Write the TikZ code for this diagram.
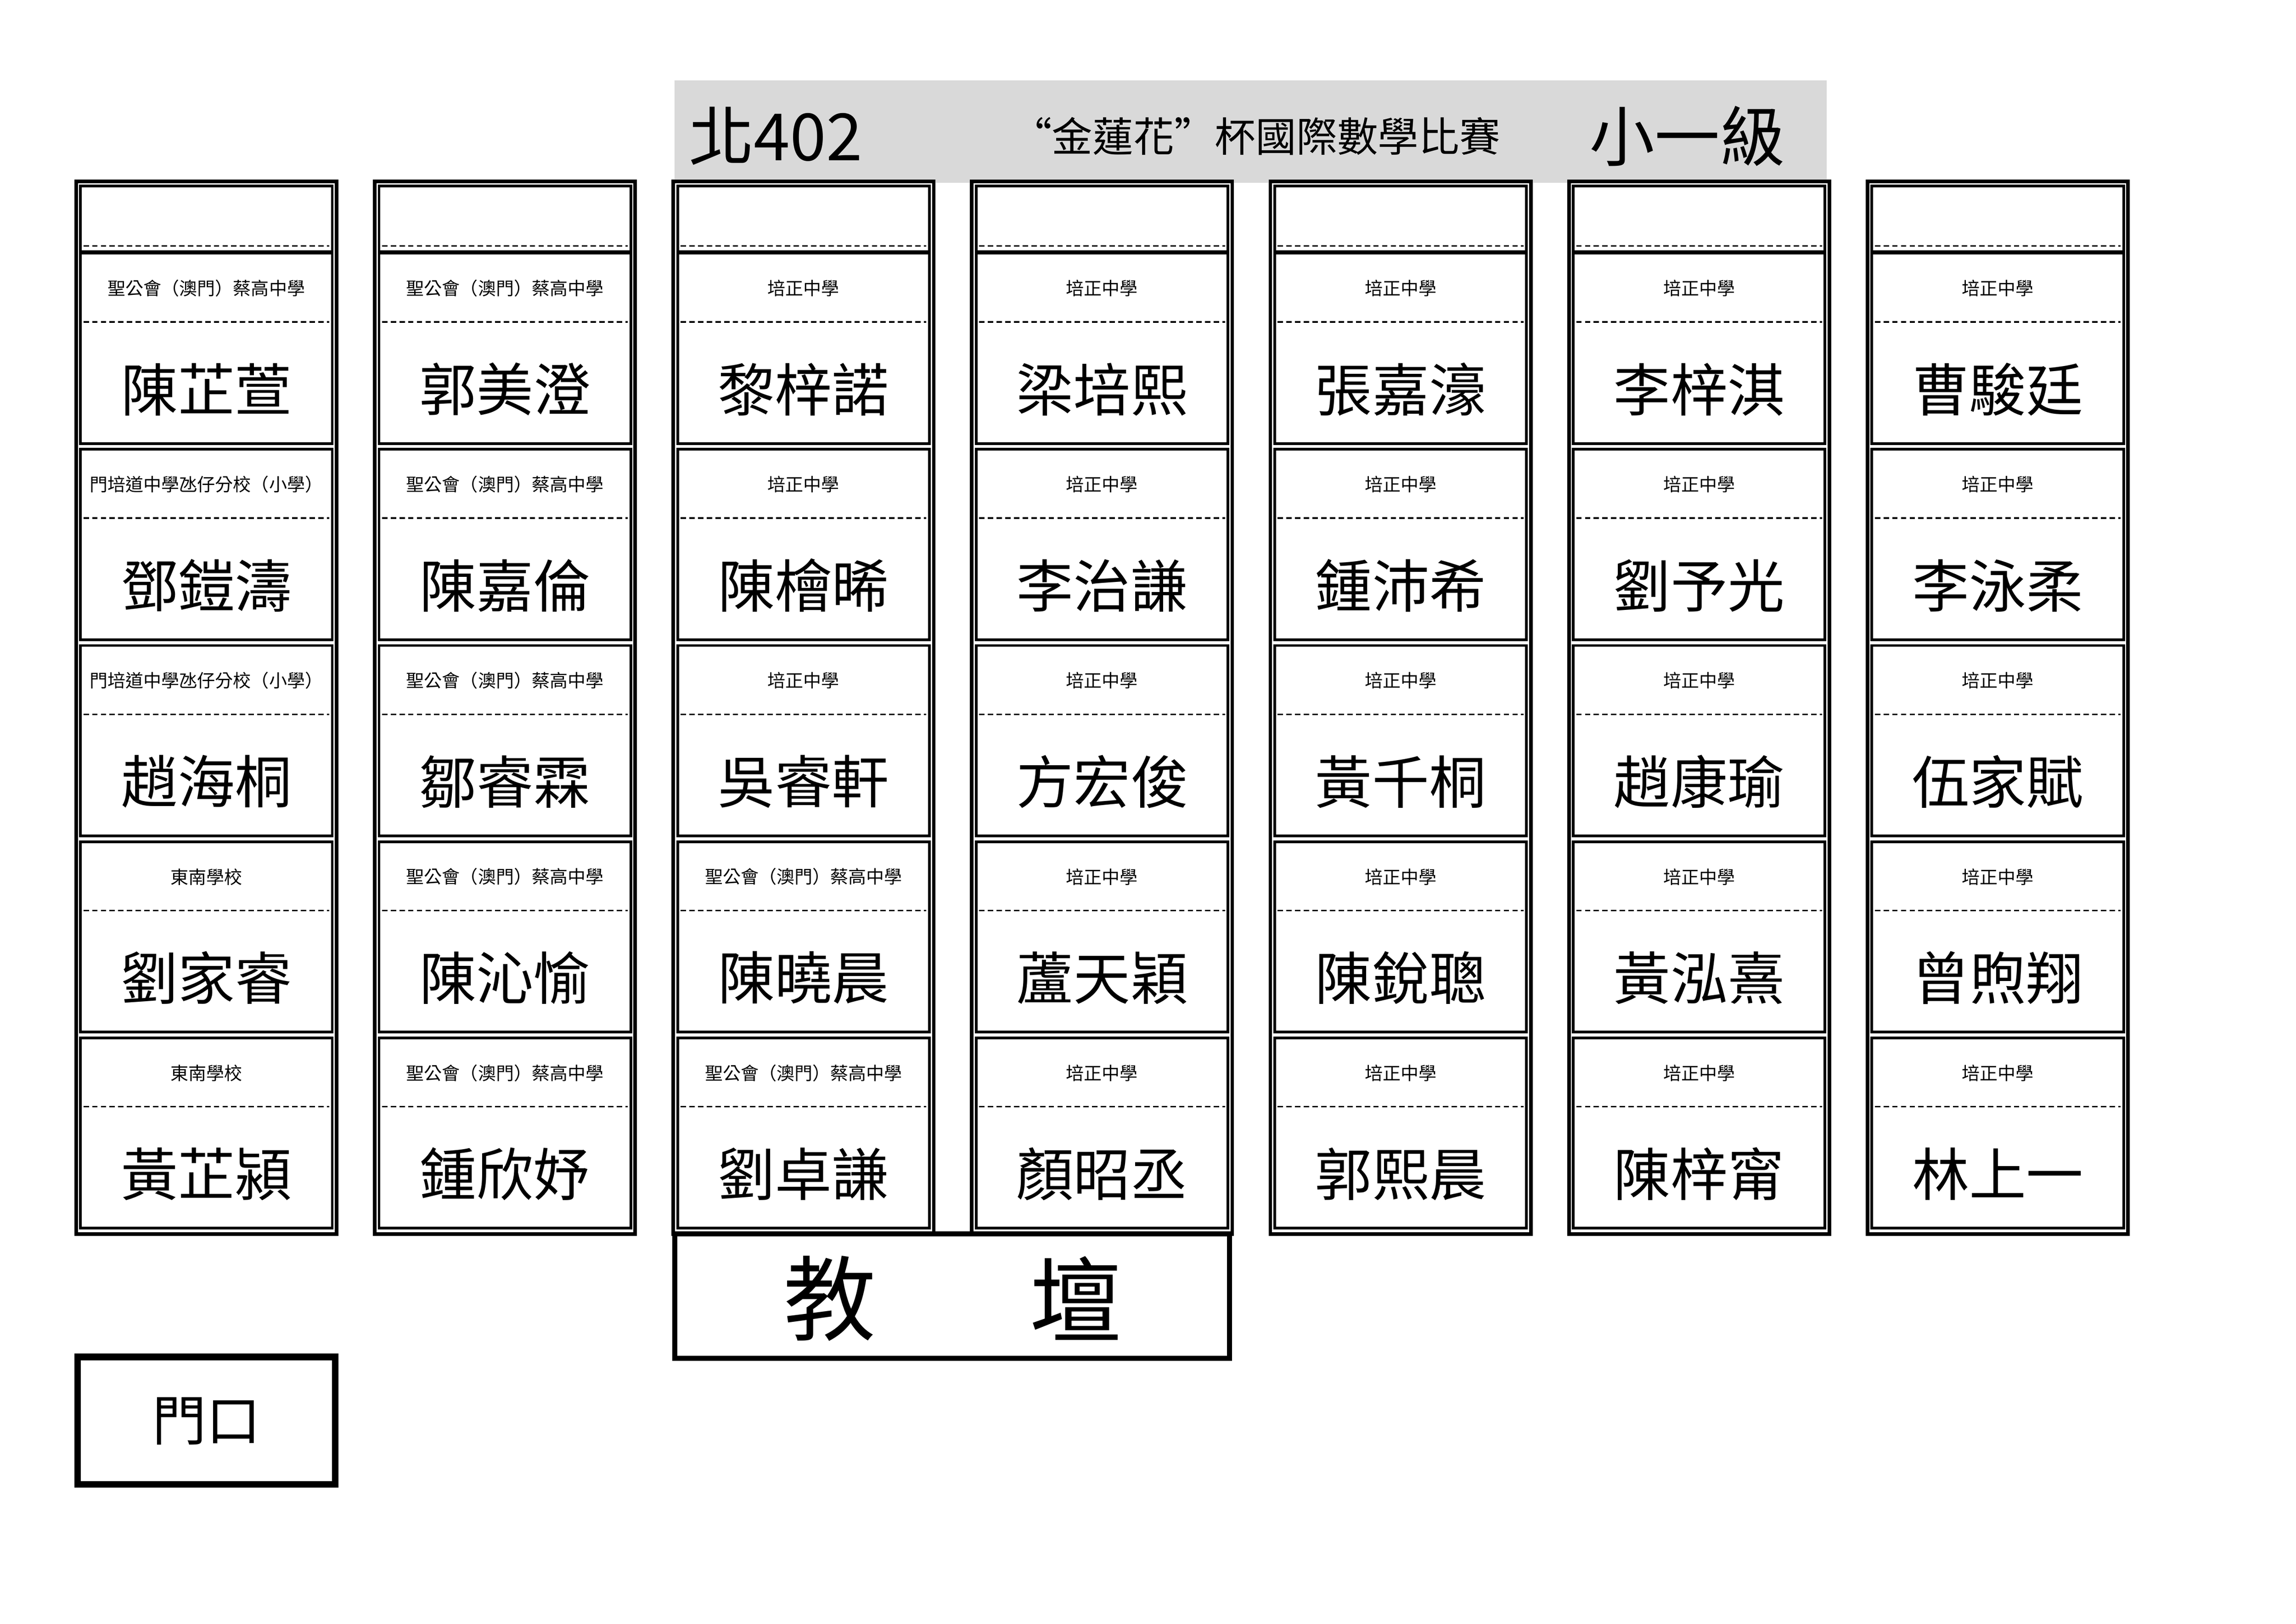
\documentclass[tikz,border=0pt]{standalone}
\usepackage{fontspec}
\setmainfont{Noto Sans CJK TC}
\usepackage{tikz}
\usetikzlibrary{calc}
\tikzset{
  frame/.style={draw,line width=1.3pt},
  cell/.style={draw,line width=1pt},
  cut/.style={dashed,line width=.6pt,dash pattern=on 2pt off 1.2pt},
  school/.style={font=\fontsize{6.6}{6.6}\selectfont,inner sep=0pt},
  pupil/.style={font=\fontsize{21}{21}\selectfont,inner sep=0pt}
}
\begin{document}
\begin{tikzpicture}[x=0.018932cm,y=-0.018932cm]
    \pgfmathsetmacro{\w}{178}
    \pgfmathsetmacro{\p}{204}
    \pgfmathsetmacro{\hh}{134}
    \useasboundingbox (0,0) rectangle (1568.8,1109.2);
    % title bar
    \fill[gray!30] (461,55) rectangle (1248,125);
    \node[font=\fontsize{24}{24}\selectfont] (room) at (530,93) {北402};
    \node[font=\fontsize{15}{15}\selectfont] (contest) at (858,93) {“金蓮花”杯國際數學比賽};
    \node[font=\fontsize{24}{24}\selectfont] (grade) at (1153,93) {小一級};
    % columns
    \foreach \c in {0,...,6}{
        \draw[frame] ({52+\c*\p},124) rectangle ++(\w,719);
        \draw[cell] ({55+\c*\p},127) rectangle ++(\w-6,45);
        \draw[cut] ({57+\c*\p},168) -- ++(\w-10,0);
        \foreach \r in {0,...,4}{
            \draw[cell] ({55+\c*\p},{173+\r*\hh}) rectangle ++(\w-6,\hh-4);
            \draw[cut] ({57+\c*\p},{220+\r*\hh}) -- ++(\w-10,0);}
    }
    % seats
    \foreach \c/\r/\s/\n in {
        1/1/聖公會（澳門）蔡高中學/陳芷萱, 1/2/門培道中學氹仔分校（小學）/鄧鎧濤,
        1/3/門培道中學氹仔分校（小學）/趙海桐, 1/4/東南學校/劉家睿, 1/5/東南學校/黃芷潁,
        2/1/聖公會（澳門）蔡高中學/郭美澄, 2/2/聖公會（澳門）蔡高中學/陳嘉倫,
        2/3/聖公會（澳門）蔡高中學/鄒睿霖, 2/4/聖公會（澳門）蔡高中學/陳沁愉,
        2/5/聖公會（澳門）蔡高中學/鍾欣妤,
        3/1/培正中學/黎梓諾, 3/2/培正中學/陳檜晞, 3/3/培正中學/吳睿軒,
        3/4/聖公會（澳門）蔡高中學/陳曉晨, 3/5/聖公會（澳門）蔡高中學/劉卓謙,
        4/1/培正中學/梁培熙, 4/2/培正中學/李治謙, 4/3/培正中學/方宏俊,
        4/4/培正中學/蘆天穎, 4/5/培正中學/顏昭丞,
        5/1/培正中學/張嘉濠, 5/2/培正中學/鍾沛希, 5/3/培正中學/黃千桐,
        5/4/培正中學/陳銳聰, 5/5/培正中學/郭熙晨,
        6/1/培正中學/李梓淇, 6/2/培正中學/劉予光, 6/3/培正中學/趙康瑜,
        6/4/培正中學/黃泓熹, 6/5/培正中學/陳梓甯,
        7/1/培正中學/曹駿廷, 7/2/培正中學/李泳柔, 7/3/培正中學/伍家賦,
        7/4/培正中學/曾煦翔, 7/5/培正中學/林上一}
    {
        \node[school] (s\c\r) at ({52+\w/2+(\c-1)*\p},{197+(\r-1)*\hh}) {\s};
        \node[pupil] (n\c\r) at ({52+\w/2+(\c-1)*\p},{266+(\r-1)*\hh}) {\n};
    }
    % podium and door
    \draw[frame,line width=1.8pt] (461,843) rectangle (840,928);
    \node[font=\fontsize{34}{34}\selectfont] (podium1) at (567,887) {教};
    \node[font=\fontsize{34}{34}\selectfont] (podium2) at (735,887) {壇};
    \draw[line width=2.4pt] (53,927) rectangle (229,1014);
    \node[font=\fontsize{20}{20}\selectfont] (door) at (141,971) {門口};
\end{tikzpicture}
\end{document}
